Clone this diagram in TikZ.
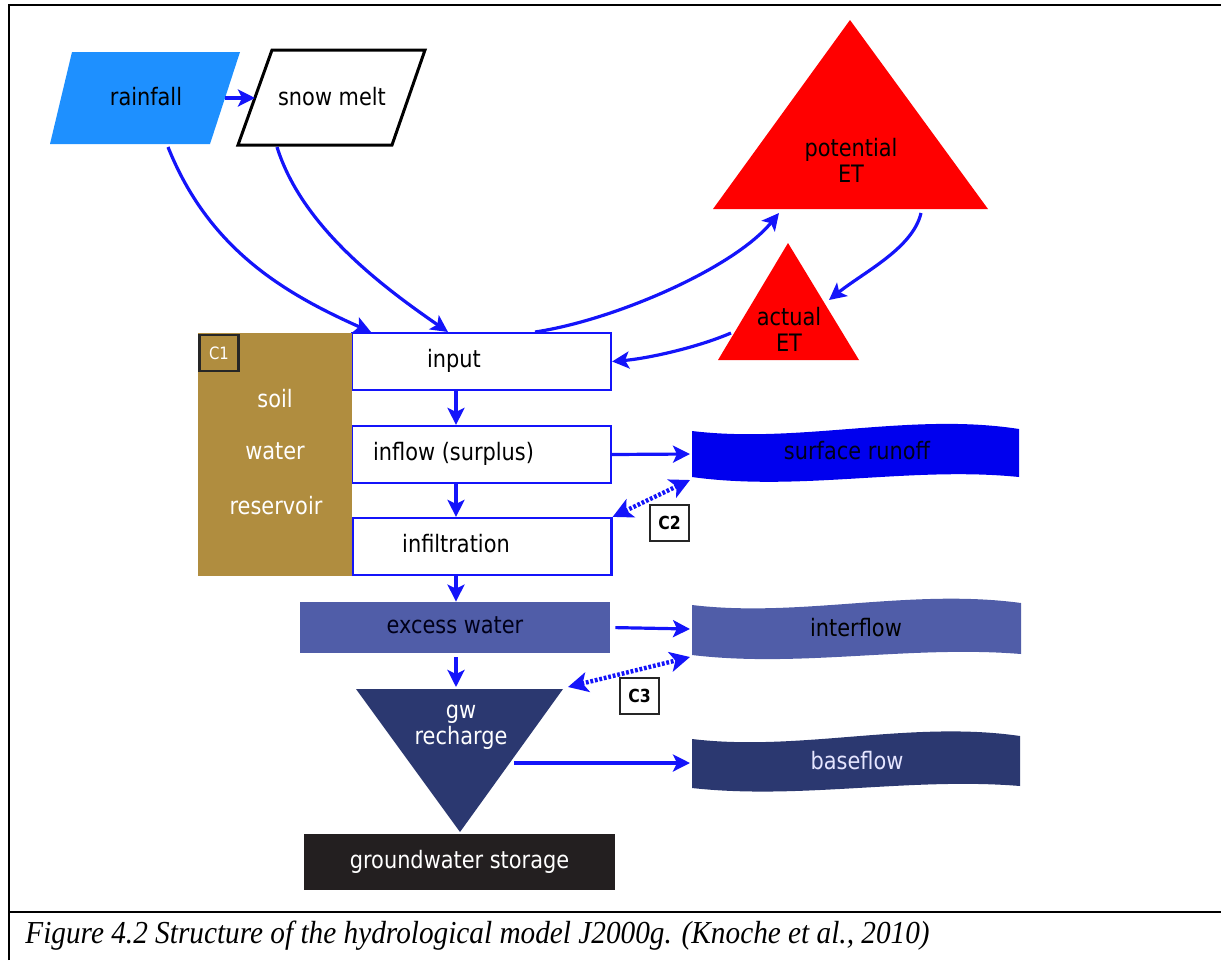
\documentclass[tikz,border=0pt]{standalone}
\usepackage{fontspec}
\setmainfont{DejaVu Sans}[FakeStretch=0.87]
\newfontfamily\capfont{Liberation Serif}[FakeStretch=0.915]
\usetikzlibrary{arrows.meta}

\definecolor{rainblue}{RGB}{30,144,255}
\definecolor{flowblue}{RGB}{20,20,250}
\definecolor{soilbrown}{RGB}{176,141,63}
\definecolor{midblue}{RGB}{80,93,168}
\definecolor{gwnavy}{RGB}{43,56,112}
\definecolor{storeblack}{RGB}{35,31,32}
\definecolor{runblue}{RGB}{0,0,238}

\tikzset{
  lbl/.style={inner sep=0pt, text height=8.6pt, text depth=2.4pt},
  twolbl/.style={inner sep=0pt, align=center},
  procbox/.style={draw=flowblue, line width=1.1pt, fill=white, minimum width=129.5pt, minimum height=28.5pt, inner sep=0pt},
  cbox/.style={draw=black!85, line width=1.3pt, fill=white, minimum width=19.5pt, minimum height=18pt, inner sep=0pt, font=\bfseries\fontsize{9}{10}\selectfont},
  flow/.style={draw=flowblue, line width=1.6pt, -{Stealth[length=8.5pt,width=8.5pt,inset=2pt]}},
  couple/.style={draw=flowblue, line width=2.2pt, dash pattern=on 1.4pt off 0.9pt,
    {Stealth[length=10pt,width=10pt,inset=2.5pt]}-{Stealth[length=10pt,width=10pt,inset=2.5pt]}},
}

\begin{document}
\begin{tikzpicture}[x=0.5pt, y=-0.5pt, font=\fontsize{12}{13}\selectfont]
\useasboundingbox (0,0) rectangle (1222,960);
% frame and caption rule
\draw[line width=1pt] (9,960) -- (9,5) -- (1221,5);
\draw[line width=1pt] (9,912) -- (1221,912);

% precipitation
\fill[rainblue] (72,52) -- (240,52) -- (210,144) -- (50,144) -- cycle;
\node[lbl] (rain) at (146,99) {rainfall};
\draw[line width=1.5pt, fill=white] (272,50) -- (425,50) -- (392,145) -- (238,145) -- cycle;
\node[lbl] (snow) at (332,99) {snow melt};

% evapotranspiration
\fill[red] (850,20) -- (988,209) -- (713,209) -- cycle;
\node[twolbl] (pet) at (851,160) {potential\\ET};
\fill[red] (788,243) -- (859,360) -- (718,360) -- cycle;
\node[twolbl] (aet) at (789,329) {actual\\ET};

% soil water reservoir
\node[procbox] (input) at (481.5,361.5) {};
\node[procbox] (inflow) at (481.5,454.5) {};
\node[procbox] (infil) at (482,546.5) {};
\fill[soilbrown] (198,333) rectangle (352,576);
\node[cbox, fill=soilbrown, text=white, font=\fontsize{8.5}{10}\selectfont] (c1) at (219,353) {C1};
\node[lbl, text=white] (soil) at (275,401) {soil};
\node[lbl, text=white] (water) at (275,453) {water};
\node[lbl, text=white] (reservoir) at (276,508) {reservoir};
\node[lbl] (input-t) at (454,361) {input};
\node[lbl] (inflow-t) at (453.5,454) {inflow (surplus)};
\node[lbl] (infil-t) at (456,546) {infiltration};

% groundwater
\node[lbl, fill=midblue, text=black!90!blue, minimum width=155pt, minimum height=25.5pt] (excess) at (455,627.5) {excess water};
\fill[gwnavy] (356,689) -- (563,689) -- (460,832) -- cycle;
\node[twolbl, text=white] (gw) at (461,727) {gw\\recharge};
\node[lbl, fill=storeblack, text=white, minimum width=155.5pt, minimum height=28pt] (store) at (459.5,862) {groundwater storage};

% runoff components
\fill[runblue] (692,431) .. controls (800,444) and (910,412) .. (1019,429)
  -- (1019,477) .. controls (910,466) and (800,492) .. (692,477) -- cycle;
\node[lbl, text=black!90!blue] (runoff) at (857,453) {surface runoff};
\fill[midblue] (692,605) .. controls (800,618) and (910,588) .. (1021,603)
  -- (1021,654) .. controls (910,645) and (800,668) .. (692,655) -- cycle;
\node[lbl] (inter) at (856,630) {interflow};
\fill[gwnavy] (692,739) .. controls (800,752) and (910,720) .. (1020,736)
  -- (1020,786) .. controls (910,777) and (800,800) .. (692,788) -- cycle;
\node[lbl, text=white!90!blue] (base) at (857,763) {baseflow};

\node[cbox] (c2) at (669.5,523) {C2};
\node[cbox] (c3) at (639.5,696) {C3};

% connector ends
\coordinate (rain-e) at (225,98);
\coordinate (snow-w) at (255,98);
\coordinate (rain-s) at (168,147);
\coordinate (snow-s) at (277,147);
\coordinate (in-a) at (371,332);
\coordinate (in-b) at (448,332);
\coordinate (in-c) at (535,332);
\coordinate (pet-sw) at (779,213);
\coordinate (pet-se) at (921,213);
\coordinate (aet-e) at (829,300);
\coordinate (aet-w) at (731,333);
\coordinate (spine) at (456,0);
\coordinate (gw-n) at (456,687);
\coordinate (gw-ne) at (568,687);
\coordinate (gw-e) at (514,763);
\coordinate (run-w) at (690,454);
\coordinate (run-sw) at (690,480);
\coordinate (inter-w) at (690,629);
\coordinate (inter-sw) at (690,657);
\coordinate (base-w) at (690,763);

% flows
\draw[flow] (rain-e) -- (snow-w);
\draw[flow] (rain-s) .. controls +(40,100) and +(-90,-40) .. (in-a);
\draw[flow] (snow-s) .. controls +(25,80) and +(-65,-45) .. (in-b);
\draw[flow] (in-c) .. controls +(80,-12) and +(-45,55) .. (pet-sw);
\draw[flow] (pet-se) .. controls +(-8,35) and +(35,-28) .. (aet-e);
\draw[flow] (aet-w) .. controls +(-35,15) and +(35,-3) .. (input.east);
\draw[flow] (input.south -| spine) -- (inflow.north -| spine);
\draw[flow] (inflow.south -| spine) -- (infil.north -| spine);
\draw[flow] (infil.south -| spine) -- (excess.north -| spine);
\draw[flow, shorten <=2pt] (excess.south -| spine) -- (gw-n);
\draw[flow] (inflow.east) -- (run-w);
\draw[flow, shorten <=2.5pt] (excess.east) -- (inter-w);
\draw[flow] (gw-e) -- (base-w);
\draw[couple] (infil.north east) -- (run-sw);
\draw[couple] (gw-ne) -- (inter-sw);

% caption
\node[anchor=base west, inner sep=0pt, font=\capfont\itshape\fontsize{16}{18}\selectfont] (caption) at (25,943)
  {Figure 4.2 Structure of the hydrological model J2000g. (Knoche et al., 2010)};
\end{tikzpicture}
\end{document}
